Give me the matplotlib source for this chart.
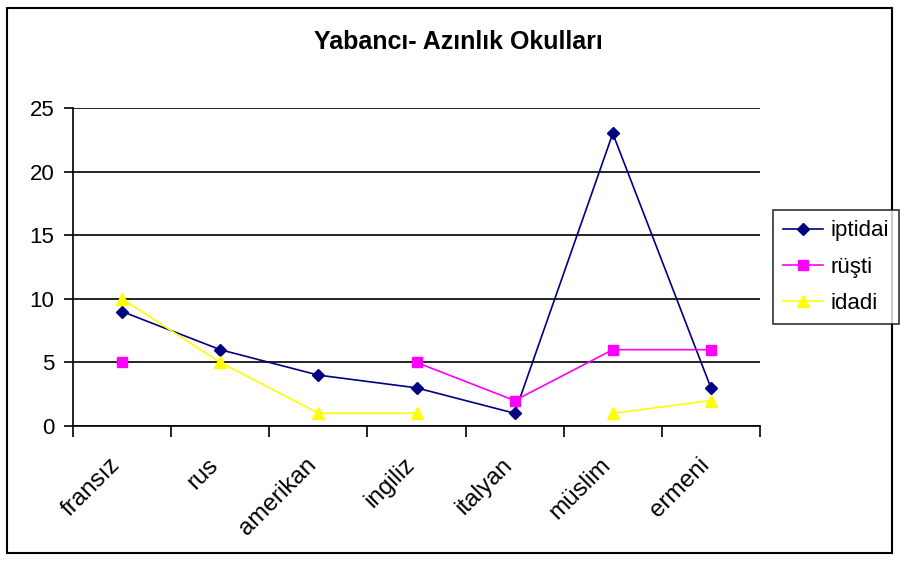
import numpy as np
import matplotlib
matplotlib.use("Agg")
import matplotlib.pyplot as plt
import matplotlib.transforms as mtransforms
from matplotlib.patches import Rectangle

plt.rcParams['font.family'] = ['Liberation Sans', 'DejaVu Sans']

categories = ['fransız', 'rus', 'amerikan', 'ingiliz', 'italyan', 'müslim', 'ermeni']
iptidai = [9, 6, 4, 3, 1, 23, 3]
rusti = [5, np.nan, np.nan, 5, 2, 6, 6]
idadi = [10, 5, 1, 1, np.nan, 1, 2]

fig = plt.figure(figsize=(9, 5.61), dpi=100)
ax = fig.add_axes([73/900, 1 - 426/561, 687/900, 318/561])

x = np.arange(len(categories))
ax.plot(x, iptidai, color='#000080', marker='D', markersize=6, lw=1.2, label='iptidai')
ax.plot(x, rusti, color='#ff00ff', marker='s', markersize=7, lw=1.2, label='rüşti')
ax.plot(x, idadi, color='#ffff00', marker='^', markersize=8, lw=1.2, label='idadi')

ax.set_xlim(-0.5, len(categories) - 0.5)
ax.set_ylim(0, 25)
ax.set_yticks([0, 5, 10, 15, 20, 25])
ax.yaxis.grid(True, color='black', lw=1.2)
ax.set_axisbelow(True)

# category boundaries get the tick marks, names sit between them
ax.set_xticks(np.arange(-0.5, len(categories), 1))
ax.set_xticklabels([])
ax.set_xticks(x, minor=True)
ax.set_xticklabels(categories, minor=True, rotation=45, ha='right', rotation_mode='anchor', fontsize=17.5)
ax.tick_params(axis='x', which='minor', length=0, pad=20)
ax.tick_params(axis='x', which='major', length=8, width=1.2, direction='out')
ax.tick_params(axis='y', length=6.5, width=1.2, labelsize=16, pad=7)

shift = mtransforms.ScaledTranslation(-13/100, 0, fig.dpi_scale_trans)
for lbl in ax.get_xticklabels(minor=True):
    lbl.set_transform(lbl.get_transform() + shift)

for s in ['top', 'right']:
    ax.spines[s].set_visible(False)
for s in ['left', 'bottom']:
    ax.spines[s].set_linewidth(1.2)

fig.text(458/900, 1 - 42/561, 'Yabancı- Azınlık Okulları', ha='center', va='center',
         fontsize=18, fontweight='bold')

leg = fig.legend(loc='center', bbox_to_anchor=(836/900, 1 - 267/561), frameon=True,
                 fancybox=False, edgecolor='black', fontsize=16, handlelength=1.8,
                 borderpad=0.45, labelspacing=0.68, handletextpad=0.3, borderaxespad=0)
leg.get_frame().set_linewidth(1.2)

fig.patches.append(Rectangle((7/900, 8/561), 885/900, 545/561, transform=fig.transFigure,
                             fill=False, edgecolor='black', lw=1.5))

fig.savefig('out.png', dpi=100)
